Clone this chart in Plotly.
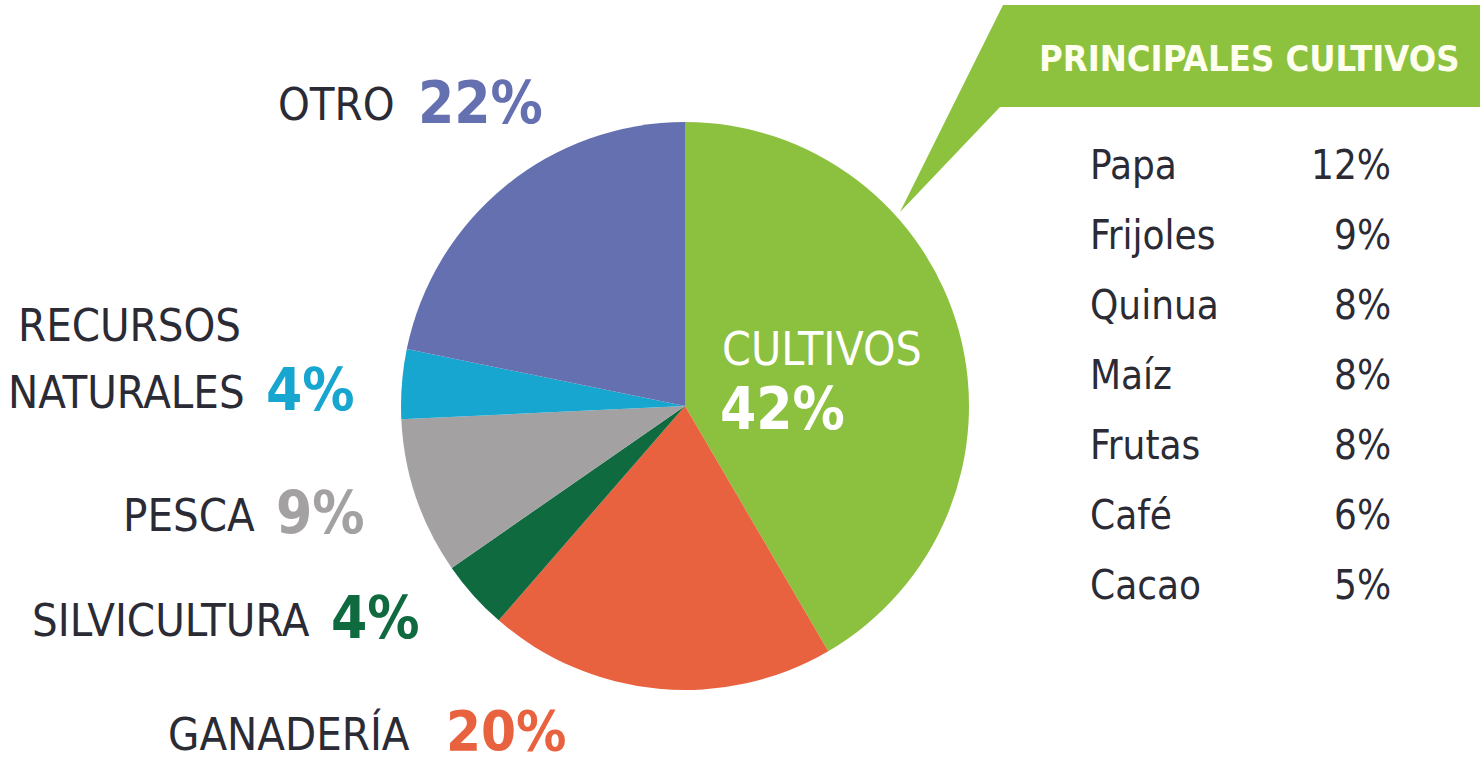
import plotly.graph_objects as go

W, H = 1480, 764

sectors = ["CULTIVOS", "GANADERÍA", "SILVICULTURA", "PESCA", "RECURSOS NATURALES", "OTRO"]
shares = [42, 20, 4, 9, 4, 22]
colors = ["#8CC03F", "#E8623F", "#0F6A3F", "#A4A1A2", "#17A6CF", "#6570B0"]

crops = ["Papa", "Frijoles", "Quinua", "Maíz", "Frutas", "Café", "Cacao"]
crop_shares = [12, 9, 8, 8, 8, 6, 5]

FONT = "Liberation Sans Narrow, DejaVu Sans Condensed, Arial Narrow, sans-serif"
DARK = "#2B2B36"

def px(x):
    return x / W

def py(y):
    return 1 - y / H

cx, cy, r = 685, 406, 284

fig = go.Figure()
fig.add_trace(go.Pie(
    labels=sectors, values=shares, sort=False, direction="clockwise", rotation=0,
    marker=dict(colors=colors, line=dict(width=0)),
    textinfo="none", hoverinfo="label+percent", showlegend=False,
    domain=dict(x=[px(cx - r), px(cx + r)], y=[py(cy + r), py(cy - r)]),
))

ann = []
LBL = 45
PCT = 58

def label(text, x, y, anchor="right", size=LBL):
    ann.append(dict(text=text, x=px(x), y=py(y), xref="paper", yref="paper",
                    xanchor=anchor, yanchor="middle", showarrow=False,
                    font=dict(family=FONT, size=size, color=DARK)))

def pct(value, xl, y, color, size=PCT):
    ann.append(dict(text=f"<b>{value}%</b>", x=px(xl), y=py(y), xref="paper", yref="paper",
                    xanchor="left", yanchor="middle", showarrow=False,
                    font=dict(family=FONT, size=size, color=color)))

label("OTRO", 397, 105); pct(shares[5], 416, 103, colors[5])
label("RECURSOS", 16, 325, anchor="left")
label("NATURALES", 247, 392); pct(shares[4], 264, 390, colors[4])
label("PESCA", 257, 515); pct(shares[3], 274, 513, colors[3])
label("SILVICULTURA", 312, 620); pct(shares[2], 329, 618, colors[2])
label("GANADERÍA", 412, 734); pct(shares[1], 444, 730, colors[1], size=56)

# inside label
ann.append(dict(text="CULTIVOS", x=px(720), y=py(349), xref="paper", yref="paper",
                xanchor="left", yanchor="middle", showarrow=False,
                font=dict(family=FONT, size=46, color="white")))
ann.append(dict(text=f"<b>{shares[0]}%</b>", x=px(718), y=py(409), xref="paper", yref="paper",
                xanchor="left", yanchor="middle", showarrow=False,
                font=dict(family=FONT, size=58, color="white")))

# callout title
ann.append(dict(text="<b>PRINCIPALES CULTIVOS</b>", x=px(1462), y=py(58), xref="paper", yref="paper",
                xanchor="right", yanchor="middle", showarrow=False,
                font=dict(family=FONT, size=36, color="#FFFFF0")))

# crop table
for i, (c, v) in enumerate(zip(crops, crop_shares)):
    y = 165 + i * 70
    ann.append(dict(text=c, x=px(1088), y=py(y), xref="paper", yref="paper",
                    xanchor="left", yanchor="middle", showarrow=False,
                    font=dict(family=FONT, size=40, color=DARK)))
    ann.append(dict(text=f"{v}%", x=px(1393), y=py(y), xref="paper", yref="paper",
                    xanchor="right", yanchor="middle", showarrow=False,
                    font=dict(family=FONT, size=40, color=DARK)))

# callout shape (box with pointer)
pts = [(1003, 5), (1480, 5), (1480, 107), (1000, 107), (900, 212)]
path = "M " + " L ".join(f"{px(x)},{py(y)}" for x, y in pts) + " Z"

fig.update_layout(
    width=W, height=H, margin=dict(l=0, r=0, t=0, b=0),
    paper_bgcolor="white", plot_bgcolor="white",
    annotations=ann,
    shapes=[dict(type="path", path=path, xref="paper", yref="paper",
                 fillcolor="#8DC23E", line=dict(width=0), layer="below")],
)

fig.write_html("out.html")
